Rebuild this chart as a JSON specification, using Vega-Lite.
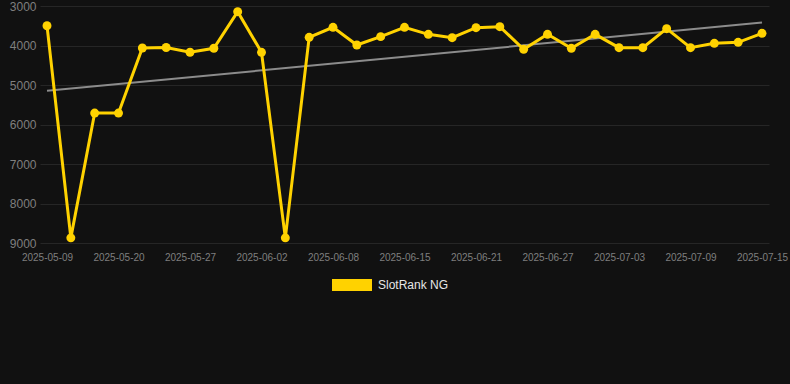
{
  "$schema": "https://vega.github.io/schema/vega-lite/v6.json",
  "width": 729,
  "height": 237,
  "autosize": {"type": "none"},
  "padding": {"left": 40, "top": 6, "right": 21, "bottom": 141},
  "background": "#111111",
  "config": {
    "view": {"stroke": null},
    "font": "Liberation Sans",
    "axis": {
      "domain": false,
      "ticks": false,
      "gridColor": "#262626",
      "gridWidth": 1,
      "labelColor": "#7f7f7f",
      "labelOverlap": false,
      "title": null
    }
  },
  "datasets": {
    "rank": [
      {"date": "2025-05-09", "rank": 3500},
      {"date": "2025-05-13", "rank": 8870},
      {"date": "2025-05-16", "rank": 5710},
      {"date": "2025-05-20", "rank": 5710},
      {"date": "2025-05-22", "rank": 4063},
      {"date": "2025-05-25", "rank": 4050},
      {"date": "2025-05-27", "rank": 4170},
      {"date": "2025-05-29", "rank": 4070},
      {"date": "2025-05-31", "rank": 3144},
      {"date": "2025-06-02", "rank": 4172},
      {"date": "2025-06-04", "rank": 8870},
      {"date": "2025-06-06", "rank": 3793},
      {"date": "2025-06-08", "rank": 3540},
      {"date": "2025-06-10", "rank": 3987},
      {"date": "2025-06-13", "rank": 3776},
      {"date": "2025-06-15", "rank": 3540},
      {"date": "2025-06-17", "rank": 3717},
      {"date": "2025-06-19", "rank": 3802},
      {"date": "2025-06-21", "rank": 3549},
      {"date": "2025-06-23", "rank": 3523},
      {"date": "2025-06-25", "rank": 4097},
      {"date": "2025-06-27", "rank": 3717},
      {"date": "2025-06-29", "rank": 4071},
      {"date": "2025-07-01", "rank": 3717},
      {"date": "2025-07-03", "rank": 4055},
      {"date": "2025-07-05", "rank": 4055},
      {"date": "2025-07-07", "rank": 3574},
      {"date": "2025-07-09", "rank": 4055},
      {"date": "2025-07-11", "rank": 3945},
      {"date": "2025-07-13", "rank": 3920},
      {"date": "2025-07-15", "rank": 3691}
    ],
    "trend": [
      {"date": "2025-05-09", "trend": 5148},
      {"date": "2025-07-15", "trend": 3420}
    ]
  },
  "layer": [
    {
      "data": {"name": "trend"},
      "mark": {"type": "line", "color": "#8c8c8c", "strokeWidth": 2},
      "encoding": {
        "x": {"field": "date", "type": "ordinal", "sort": "ascending",
          "scale": {"type": "point", "padding": 0.294},
          "axis": {
            "values": ["2025-05-09", "2025-05-20", "2025-05-27", "2025-06-02", "2025-06-08", "2025-06-15", "2025-06-21", "2025-06-27", "2025-07-03", "2025-07-09", "2025-07-15"],
            "labelAngle": 0, "labelFontSize": 10, "labelPadding": 9
          }},
        "y": {"field": "trend", "type": "quantitative",
          "scale": {"domain": [3000, 9000], "reverse": true, "nice": false, "zero": false},
          "axis": {"values": [3000, 4000, 5000, 6000, 7000, 8000, 9000], "tickCount": 20, "format": "d", "labelFontSize": 12, "labelPadding": 4}}
      }
    },
    {
      "data": {"name": "rank"},
      "mark": {"type": "line", "strokeWidth": 3, "point": {"filled": true, "size": 80, "opacity": 1}},
      "encoding": {
        "x": {"field": "date", "type": "ordinal", "sort": "ascending"},
        "y": {"field": "rank", "type": "quantitative"},
        "color": {
          "datum": "SlotRank NG",
          "type": "nominal",
          "scale": {"range": ["#FFD200"]},
          "legend": {
            "title": null,
            "orient": "none",
            "legendX": 292,
            "legendY": 259,
            "symbolType": "M-1,-0.3H1V0.3H-1Z",
            "symbolSize": 1600,
            "symbolStrokeWidth": 0,
            "labelColor": "#e6e6e6",
            "labelFontSize": 12,
            "labelOffset": 6
          }
        }
      }
    }
  ]
}
